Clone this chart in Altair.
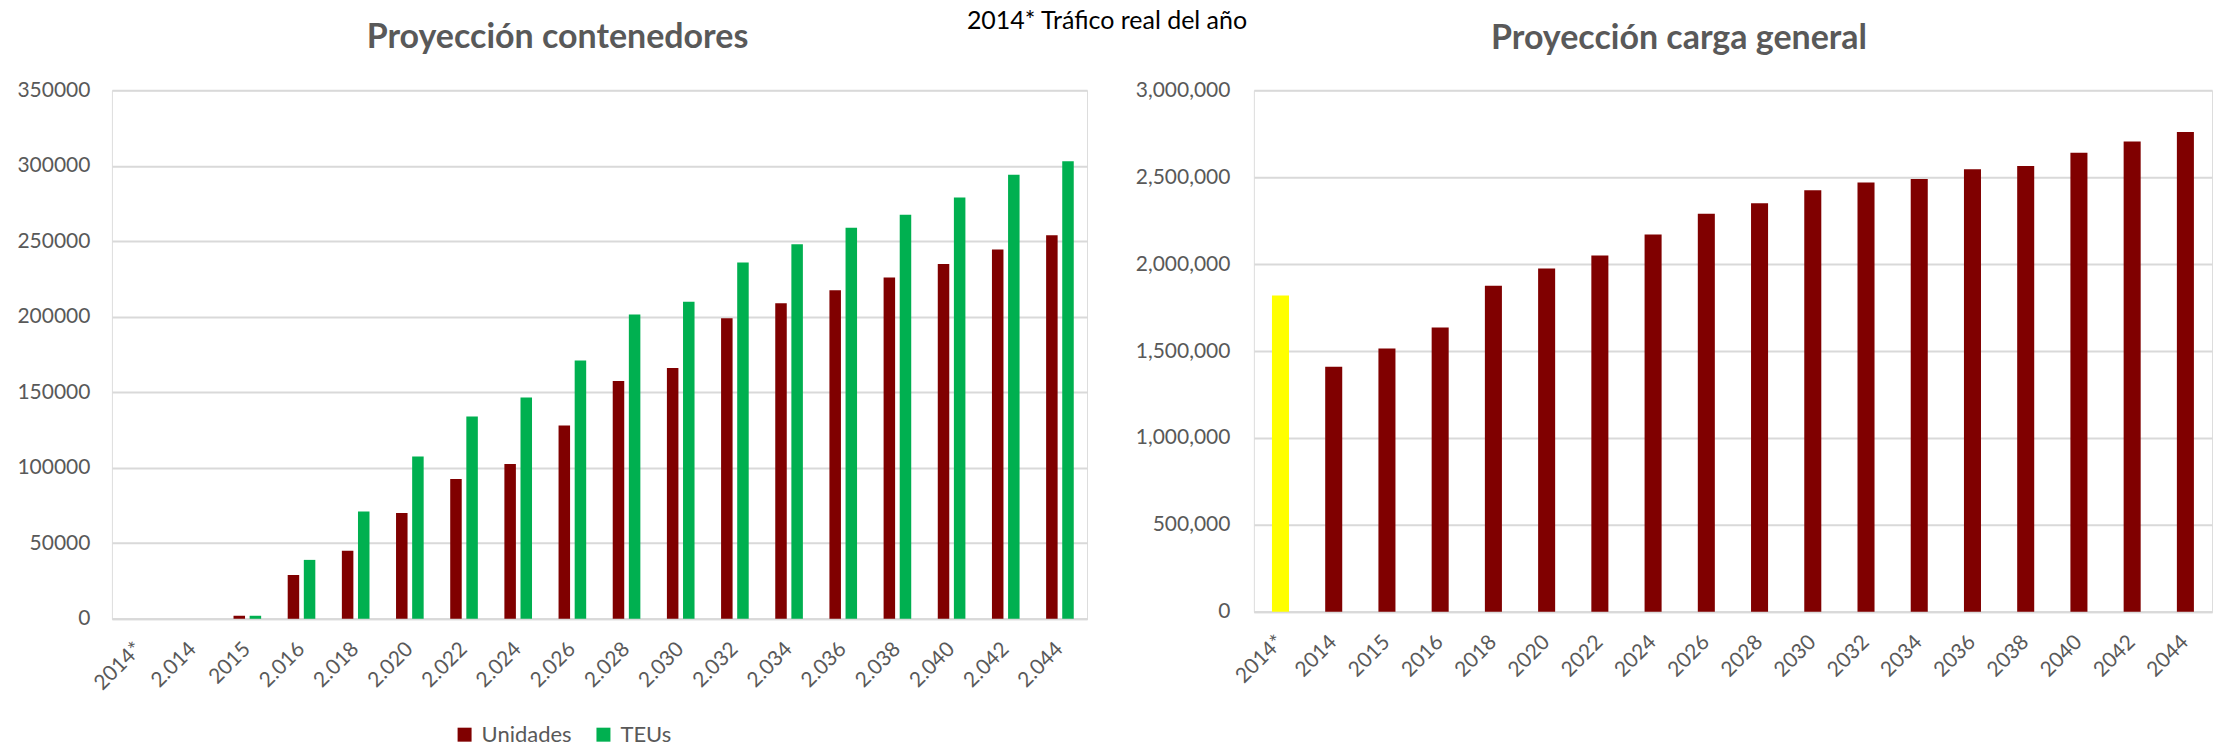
import altair as alt
import pandas as pd

# ---------------- data ----------------
cats_cont = ["2014*", "2.014", "2015", "2.016", "2.018", "2.020", "2.022", "2.024", "2.026",
             "2.028", "2.030", "2.032", "2.034", "2.036", "2.038", "2.040", "2.042", "2.044"]
unidades = [0, 0, 2000, 29000, 45000, 70000, 92500, 102500, 128000,
            157500, 166000, 199000, 209000, 217500, 226000, 235000, 244500, 254000]
teus = [0, 0, 2000, 39000, 71000, 107500, 134000, 146500, 171000,
        201500, 210000, 236000, 248000, 259000, 267500, 279000, 294000, 303000]
series_names = ["Unidades", "TEUs"]
series_colors = ["#800000", "#00B050"]
ticks_cont = [0, 50000, 100000, 150000, 200000, 250000, 300000, 350000]

cats_carga = ["2014*", "2014", "2015", "2016", "2018", "2020", "2022", "2024", "2026",
              "2028", "2030", "2032", "2034", "2036", "2038", "2040", "2042", "2044"]
carga = [1820000, 1410000, 1515000, 1635000, 1875000, 1975000, 2050000, 2170000, 2290000,
         2350000, 2425000, 2470000, 2490000, 2545000, 2565000, 2640000, 2705000, 2760000]
carga_tipo = ["Real", "Proyección", "Proyección", "Proyección", "Proyección", "Proyección",
              "Proyección", "Proyección", "Proyección", "Proyección", "Proyección", "Proyección",
              "Proyección", "Proyección", "Proyección", "Proyección", "Proyección", "Proyección"]
tipo_names = ["Real", "Proyección"]
tipo_colors = ["#FFFF00", "#800000"]
ticks_carga = [0, 500000, 1000000, 1500000, 2000000, 2500000, 3000000]

title_left = "Proyección contenedores"
title_right = "Proyección carga general"
note_text = "2014* Tráfico real del año"

FONT = "Lato"
GRAY = "#595959"
GRID = "#D9D9D9"

# ---------------- left chart ----------------
df_c = pd.DataFrame({
    "año": cats_cont + cats_cont,
    "serie": [series_names[0]] * len(cats_cont) + [series_names[1]] * len(cats_cont),
    "valor": unidades + teus,
})

x_axis_common = dict(title=None, labelAngle=-45, labelAlign="right", labelBaseline="middle",
                     labelPadding=27, ticks=False, domainColor=GRID, domainWidth=2,
                     labelFontSize=21, labelColor=GRAY, labelFont=FONT, grid=False,
                     labelOverlap=False)

bars_left = alt.Chart(df_c).mark_bar().encode(
    x=alt.X("año:N", sort=cats_cont,
            scale=alt.Scale(paddingInner=0.49, paddingOuter=0.245),
            axis=alt.Axis(**x_axis_common)),
    xOffset=alt.XOffset("serie:N", sort=series_names,
                        scale=alt.Scale(domain=series_names, paddingInner=0.286, paddingOuter=0)),
    y=alt.Y("valor:Q", scale=alt.Scale(domain=[0, 350000], nice=False),
            axis=alt.Axis(title=None, values=ticks_cont, format="d", grid=True,
                          gridColor=GRID, gridWidth=2, domain=False, ticks=False,
                          labelPadding=22, minExtent=106, maxExtent=106,
                          labelFontSize=21, labelColor=GRAY, labelFont=FONT)),
    color=alt.Color("serie:N", sort=series_names,
                    scale=alt.Scale(domain=series_names, range=series_colors),
                    legend=alt.Legend(title=None, orient="none", direction="horizontal",
                                      legendX=342, legendY=634, symbolType="square",
                                      symbolSize=196, symbolStrokeWidth=0,
                                      labelFontSize=22, labelColor=GRAY, labelFont=FONT,
                                      columnPadding=20, labelOffset=6)),
)

note = alt.Chart(pd.DataFrame({"nota": [note_text]})).mark_text(
    fontSize=25, font=FONT, color="#000000", align="center", baseline="middle"
).encode(text="nota:N", x=alt.value(996), y=alt.value(-69))

left = alt.layer(bars_left, note).properties(
    width=976, height=529,
    title=alt.TitleParams(title_left, fontSize=34, font=FONT, fontWeight="bold",
                          color=GRAY, anchor="middle", frame="group", offset=-46, dx=-42),
)

# ---------------- right chart ----------------
df_g = pd.DataFrame({"año": cats_carga, "valor": carga, "tipo": carga_tipo})

right = alt.Chart(df_g).mark_bar().encode(
    x=alt.X("año:N", sort=cats_carga,
            scale=alt.Scale(paddingInner=0.68, paddingOuter=0.34),
            axis=alt.Axis(**x_axis_common)),
    y=alt.Y("valor:Q", scale=alt.Scale(domain=[0, 3000000], nice=False),
            axis=alt.Axis(title=None, values=ticks_carga, format=",d", grid=True,
                          gridColor=GRID, gridWidth=2, domain=False, ticks=False,
                          labelPadding=24, minExtent=120, maxExtent=120,
                          labelFontSize=21, labelColor=GRAY, labelFont=FONT)),
    color=alt.Color("tipo:N", scale=alt.Scale(domain=tipo_names, range=tipo_colors), legend=None),
).properties(
    width=959, height=522,
    title=alt.TitleParams(title_right, fontSize=34, font=FONT, fontWeight="bold",
                          color=GRAY, anchor="middle", frame="group", offset=23, dx=-54),
)

chart = alt.hconcat(left, right, spacing=167, bounds="flush").resolve_scale(
    color="independent"
).properties(
    padding={"left": 5, "top": 8, "right": 5, "bottom": 0},
    background="white",
).configure_view(stroke=None).configure(font=FONT)

chart.save("out.html", embed_options={"renderer": "svg", "actions": False})
